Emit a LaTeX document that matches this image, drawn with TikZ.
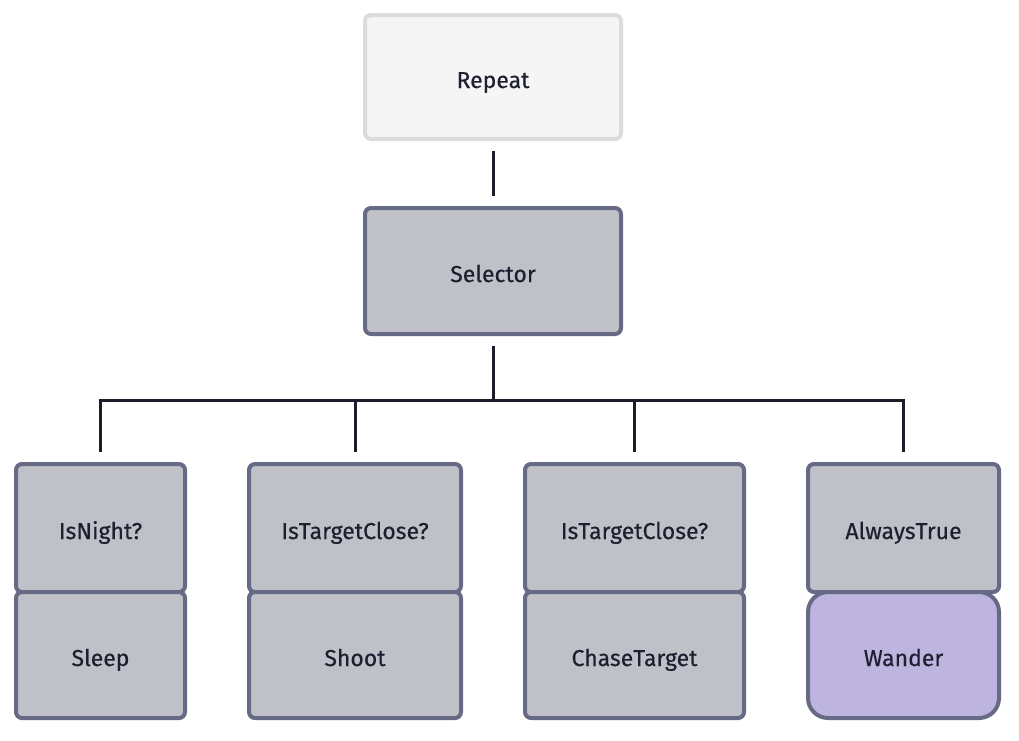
\documentclass[tikz,border=0pt]{standalone}
\usepackage{fontspec}
\setmainfont{Fira Sans}
\usetikzlibrary{positioning}

\definecolor{boxline}{HTML}{676A85}
\definecolor{boxfill}{HTML}{BFC0C8}
\definecolor{repline}{HTML}{DCDCDE}
\definecolor{repfill}{HTML}{F5F5F5}
\definecolor{actfill}{HTML}{BDB4E0}
\definecolor{linedark}{HTML}{1C1D2B}
\definecolor{textdark}{HTML}{1E2030}

\tikzset{
  task/.style={draw=boxline, fill=boxfill, line width=4pt, rounded corners=6pt,
    inner sep=0pt, minimum height=124pt, text=textdark,
    text height=24pt, text depth=2pt,
    font=\fontsize{23}{28}\selectfont\addfontfeature{FakeBold=0.4}},
  deco/.style={task, draw=repline, fill=repfill},
  act/.style={task, fill=actfill, rounded corners=20pt},
  link/.style={draw=linedark, line width=3pt},
}

\begin{document}
\begin{tikzpicture}[x=1pt, y=-1pt]
  \useasboundingbox (0,0) rectangle (1019,740);

  \node[deco, minimum width=256pt] (repeat) at (493,77) {Repeat};
  \node[task, minimum width=256pt, minimum height=126pt] (selector) at (493,271) {Selector};

  \node[task, minimum width=169pt, minimum height=128pt] (night) at (100.5,528) {IsNight?};
  \node[task, minimum width=169pt, minimum height=126pt, below=-4pt of night] (sleep) {Sleep};
  \node[task, minimum width=212pt, minimum height=128pt] (close1) at (355,528) {IsTargetClose?};
  \node[task, minimum width=212pt, minimum height=126pt, below=-4pt of close1] (shoot) {Shoot};
  \node[task, minimum width=219pt, minimum height=128pt] (close2) at (634.5,528) {IsTargetClose?};
  \node[task, minimum width=219pt, minimum height=126pt, below=-4pt of close2] (chase) {ChaseTarget};
  \node[task, minimum width=191pt, minimum height=128pt] (always) at (903.5,528) {AlwaysTrue};
  \node[act, minimum width=191pt, minimum height=126pt, below=-4pt of always] (wander) {Wander};

  \coordinate (bus) at (493,400);

  \draw[link, shorten <=10pt, shorten >=10pt] (repeat) -- (selector);
  \draw[link, shorten <=10pt] (selector) -- (bus);
  \draw[link, shorten >=10pt] (bus) -| (night);
  \draw[link, shorten >=10pt] (bus) -| (close1);
  \draw[link, shorten >=10pt] (bus) -| (close2);
  \draw[link, shorten >=10pt] (bus) -| (always);
\end{tikzpicture}
\end{document}
